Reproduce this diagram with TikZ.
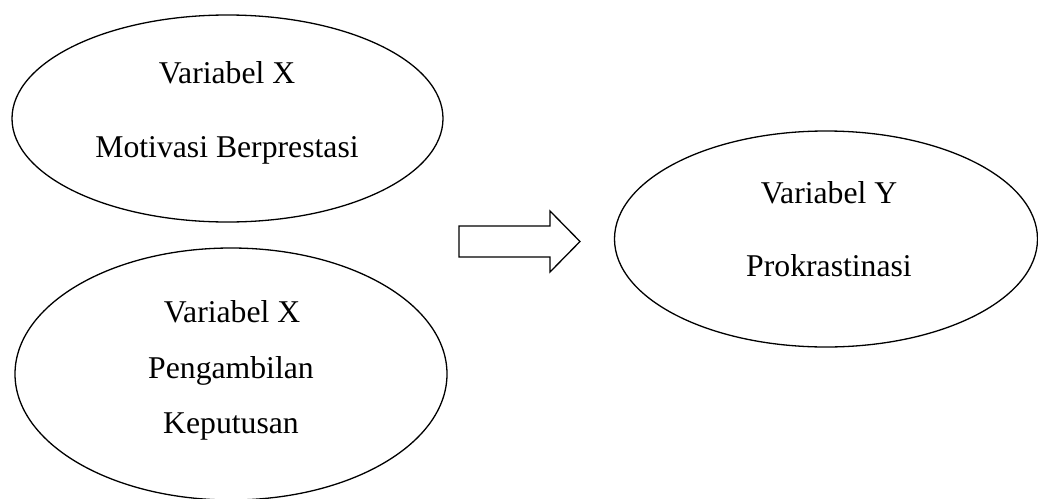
\documentclass[tikz,border=0pt]{standalone}
\usepackage{fontspec}
\setmainfont{Liberation Serif}
\usetikzlibrary{shapes.geometric}
\begin{document}
\begin{tikzpicture}[x=1pt,y=-1pt,
  oval/.style={draw=black,line width=1.3pt,ellipse,inner sep=0pt},
  lbl/.style={anchor=base,inner sep=0pt,font=\fontsize{31.7}{38}\selectfont},
  blockarrow/.style={draw=black,line width=1.3pt,line join=miter}]
\useasboundingbox (0,0) rectangle (1038,498);
\clip (0,0) rectangle (1038,498);
% ellipses
\node[oval,minimum width=431pt,minimum height=207pt] (x1) at (227.5,118.5) {};
\node[oval,minimum width=432pt,minimum height=252pt] (x2) at (231,374) {};
\node[oval,minimum width=423pt,minimum height=216pt] (y) at (826,239) {};
% texts
\node[lbl] (x1a) at (227,83) {Variabel X};
\node[lbl] (x1b) at (227,157) {Motivasi Berprestasi};
\node[lbl] (x2a) at (232,322) {Variabel X};
\node[lbl] (x2b) at (231,378) {Pengambilan};
\node[lbl] (x2c) at (231,433) {Keputusan};
\node[lbl] (ya) at (829,203) {Variabel Y};
\node[lbl] (yb) at (829,276) {Prokrastinasi};
% block arrow
\coordinate (a1) at (459,226);
\coordinate (a2) at (550,226);
\coordinate (a3) at (550,211);
\coordinate (tip) at (580,241.5);
\coordinate (a5) at (550,272);
\coordinate (a6) at (550,257);
\coordinate (a7) at (459,257);
\draw[blockarrow] (a1) -- (a2) -- (a3) -- (tip) -- (a5) -- (a6) -- (a7) -- cycle;
\end{tikzpicture}
\end{document}
